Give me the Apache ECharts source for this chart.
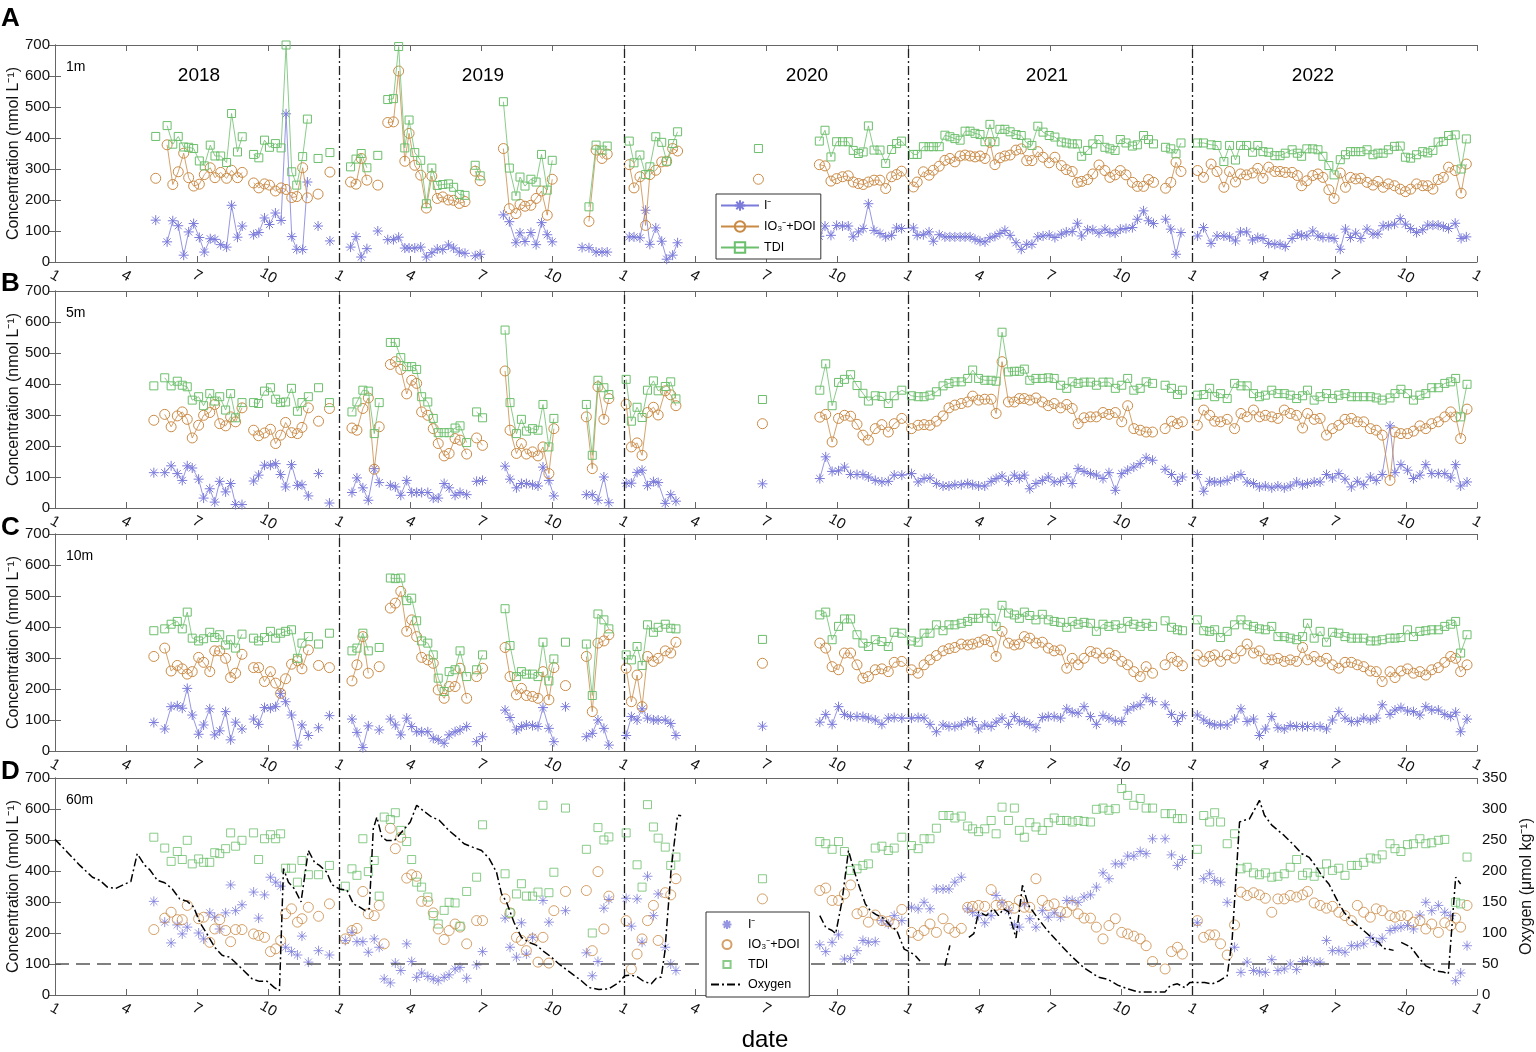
<!DOCTYPE html>
<html>
<head>
<meta charset="utf-8">
<script src="https://cdn.jsdelivr.net/npm/echarts@6/dist/echarts.min.js"></script>
<style>
  html, body { margin: 0; padding: 0; background: #fff; }
  #chart { width: 1536px; height: 1052px; }
</style>
</head>
<body>
<div id="chart"></div>
<script>
// time axis = months since 2018-01-01; ticks every 3 months labelled 1,4,7,10

// ---------- shared sampling dates (panels B, C, D) ----------
var t18 = [4.17, 4.63,4.9,5.16,5.37,5.58,5.79,6.06,6.27,6.53,6.74,6.95,7.2,7.41,7.62,7.89,
  8.38,8.59,8.84,9.09,9.31,9.52,9.73,9.98,10.23,10.42,10.69, 11.12, 11.58];
var t19B = [12.53,12.74,12.99,13.22,13.47,13.68,
  14.15,14.36,14.59,14.84,15.05,15.26,15.47,15.73,15.96,16.17,16.42,16.63,16.88,17.09,17.37,
  17.79,18.04, 18.99,19.2,19.47,19.68,19.89,20.15,20.38,20.59,20.84,21.05, 22.42,22.67,22.91,23.16,23.37];
var t19C = [12.53,12.74,12.99,13.22, 13.68,
  14.15,14.36,14.59,14.84,15.05,15.26,15.47,15.73,15.96,16.17,16.42,16.63,16.88,17.09,17.37,
  17.79,18.04, 18.99,19.2,19.47,19.68,19.89,20.15,20.38,20.59,20.84,21.05, 21.54, 22.42,22.67,22.91,23.16,23.37];
var t19D = [12.25,12.53,12.74,12.99,13.22,13.47,13.68,13.89,
  14.15,14.36,14.59,14.84,15.05,15.26,15.47,15.73,15.96,16.17,16.42,16.63,16.88,17.09,17.37,
  17.79,18.04, 18.99,19.2,19.47,19.68,19.89,20.15,20.38,20.59,20.84,21.05, 21.54, 22.42,22.67,22.91,23.16,23.37];
var t20 = [24.1,24.32,24.56,24.77,25.0,25.25,25.45,25.75,25.98,26.2, 29.85];
var tLate20 = [32.27,32.52,32.79,33.06,33.31,33.57,33.84,34.09,34.32,34.61,34.89,35.16,35.41,35.73];
var t21 = [36.14,36.42,36.67,36.92,37.19,37.47,37.72,37.97,38.24,38.51,38.72,38.97,39.23,39.5,39.71,
  39.96,40.23,40.48,40.69,40.9,41.13,41.39,41.66,41.91,42.16,42.43,42.69,42.92,43.17,43.42,
  43.69,43.94,44.22,44.47,44.74,45.01,45.26,45.52,45.79,46.04,46.31];
var t21b = [46.84,47.11,47.36,47.57];
var t22 = [48.2,48.47,48.72,48.93,49.18,49.46,49.77,50.04,50.3,50.57,50.82,51.07,51.34,51.6,51.87,
  52.12,52.39,52.64,52.85,53.13,53.38,53.65,53.9,54.17,54.43,54.7,54.95,55.22,55.5,55.75,
  56.0,56.33,56.54,56.79,57.07,57.32,57.59,57.84,58.09,58.37,58.64,58.89,59.1,59.31,59.58];

// ---------- A : 1 m ----------
var tA = [4.25,
  4.73,4.97,5.2,5.43,5.64,5.85,6.09,6.3,6.55,6.75,6.99,7.24,7.45,7.7,7.9,
  8.38,8.6,8.84,9.05,9.3,9.54,9.75,9.99,10.2,10.45,10.65, 11.1, 11.6,
  12.47,12.7,12.92,13.16, 13.62,
  14.04,14.28,14.5,14.76,14.94,15.18,15.43,15.67,15.9,16.13,16.36,16.6,16.82,17.06,17.3,
  17.73,17.94, 18.92,19.17,19.45,19.62,19.83,20.08,20.3,20.53,20.77,20.98,
  22.24,22.53,22.83,23.08,23.3,
  24.23,24.43,24.68,24.92,25.1,25.35,25.6,25.81,26.06,26.27, 29.68,
  32.25,32.49,32.74,32.98,33.23,33.47,33.68,33.9,34.1,34.32,34.56,34.81,35.05,35.3,35.51,35.72,
  36.22,36.38,36.64,36.88,37.06,37.31,37.55,37.76,37.97,38.19,38.4,38.61,38.82,39.03,39.24,39.45,39.66,39.87,40.08,40.3,40.55,
  40.77,41.0,41.22,41.47,41.69,41.95,42.19,42.46,42.67,42.92,43.14,43.32,43.57,43.79,44.05,44.3,44.51,44.73,44.95,45.19,45.46,45.67,45.93,46.14,46.35,
  46.86,47.08,47.3,47.51,
  48.21,48.46,48.78,49.03,49.32,49.56,49.81,50.02,50.28,50.53,50.75,50.97,51.21,51.47,51.69,51.91,52.2,52.42,52.6,52.82,
  53.07,53.29,53.5,53.75,53.97,54.23,54.45,54.66,54.88,55.1,55.36,55.61,55.82,56.04,56.26,56.52,56.76,56.98,57.2,57.45,
  57.71,57.92,58.14,58.36,58.58,58.8,59.08,59.33,59.55];
var segA = [1,15,11,1,1,4,1,15,2,10,5,10,1,62,4,49];
var iA = [135,
  65,133,117,22,97,124,79,32,75,73,56,48,183,80,116,
  88,95,142,121,158,134,478,82,41,40,258, 116, 68,
  48,82,16,43, 100,
  72,72,80,45,45,45,48,16,30,42,40,55,45,32,28,
  20,25, 152,130,62,94,66,95,56,127,88,65,
  47,46,32,32,32,
  81,81,78,167,57,110,67,9,22,62, null,
  83,116,86,118,116,116,81,97,108,188,102,92,81,86,110,108,
  110,86,88,97,67,88,81,81,81,81,81,81,73,67,65,78,83,92,102,86,62,
  41,57,57,81,84,87,79,90,97,98,125,84,104,104,93,106,95,93,106,108,111,138,165,133,124,
  138,106,25,95,
  84,111,60,84,84,81,68,97,97,71,79,76,60,57,57,50,76,90,86,84,
  100,84,79,79,76,41,106,79,93,76,106,90,90,117,117,122,140,122,108,95,
  104,119,119,119,114,108,125,76,81];
var ioA = [270,
  378,250,291,351,272,245,251,282,304,272,289,270,296,272,289,
  255,239,252,248,229,239,234,208,211,304,207, 219, 290,
  258,251,334,264, 248,
  450,452,616,325,415,312,280,174,277,205,210,200,199,189,195,
  293,262, 366,172,156,186,180,183,205,229,151,267,
  null,131,361,334,348,
  314,239,275,118,282,296,323,325,366,358, 267,
  314,310,261,269,275,278,258,253,250,258,264,264,237,275,282,293,
  242,258,291,280,296,309,328,334,323,342,345,342,339,342,334,386,314,336,342,345,361,
  365,327,327,356,338,320,338,311,298,292,257,260,266,284,313,295,273,281,295,281,257,244,244,266,257,
  238,257,322,292,
  295,273,316,292,241,292,258,284,281,287,302,270,306,292,292,289,289,279,246,262,
  279,284,273,233,205,287,241,273,268,270,257,248,260,241,252,246,235,227,235,252,
  246,246,235,266,273,306,295,222,316];
var tdA = [405,
  440,380,405,371,370,366,326,310,377,342,342,321,479,355,404,
  347,336,393,370,382,368,700,291,248,340,461, 334, 353,
  307,332,350,304, 344,
  524,527,695,368,458,353,328,188,303,247,250,252,241,218,215,
  312,278, 517,303,213,274,245,267,258,347,232,328,
  null,178,377,361,374,
  390,320,345,282,307,404,386,325,382,420, 366,
  390,425,339,388,388,388,360,350,355,439,361,361,318,363,382,390,
  347,347,372,372,372,372,409,404,398,393,422,422,415,411,388,444,388,428,428,420,411,
  408,384,376,438,419,408,403,387,384,381,381,341,360,381,395,370,365,360,395,384,374,378,408,395,381,
  370,365,349,384,
  384,384,378,376,324,376,329,376,376,354,376,356,354,343,343,351,362,351,341,365,
  365,362,341,311,281,330,346,356,356,356,362,346,351,351,362,373,374,338,335,346,
  356,352,360,387,389,408,410,300,397];

// ---------- B : 5 m ----------
var tB = [].concat(t18, t19B, t20, tLate20, t21, t21b, t22);
var segB = [1,15,11,1,1,6,15,2,10,5,10,1,55,4,45];
var iB = [114, 114,136,111,89,136,129,93,32,62,19,86,52,79,11,11, 87,106,138,138,143,108,68,140,73,75,39, 111, 16,
  50,97,65,25,127,82, 73,68,41,89,50,50,50,50,32,32,79,65,41,50,43, 86,89, 135,93,65,79,79,75,71,132,89,39, 43,43,25,100,17,
  80,80,115,122,72,85,82,15,43,22, 78,
  95,165,118,120,132,108,108,108,100,89,84,86,106,106,
  111,84,95,97,79,71,71,75,75,79,75,71,71,86,95,103,86,106,95,106,62,79,89,100,84,86,100,79,127,118,111,106,95,114,57,111,122,132,143,162,154,
  125,108,86,100,
  108,54,86,84,84,89,100,108,84,79,68,71,65,71,65,71,84,75,79,84,84,108,97,111,93,68,86,75,100,89,108,265,114,140,122,95,106,140,111,111,111,97,140,71,84];
var ioB = [283, 302,262,297,310,286,226,267,299,308,334,272,265,294,278,323, 251,233,242,254,208,235,276,243,240,260,323, 280, 321,
  258,251,321,355,125,262, 463,472,447,368,412,402,310,299,256,208,168,176,224,219,174, 226,202, 442,251,176,208,174,181,168,197,111,256, 294,127,391,286,353,
  335,197,210,170,308,325,300,378,365,330, 272,
  293,302,213,289,299,296,270,235,219,256,269,245,272,289,
  256,267,269,267,280,297,323,332,337,342,361,348,351,351,305,472,342,342,353,353,348,355,342,330,337,323,334,321,272,291,294,294,308,302,308,278,330,256,251,245,245,
  256,280,272,278,
  267,316,299,280,278,286,256,305,294,316,294,299,294,289,316,305,299,258,305,286,289,235,256,267,286,289,278,278,256,251,235,89,245,240,240,248,265,256,272,278,294,310,294,224,319];
var tdB = [394, 420,394,409,396,391,348,359,330,369,345,359,316,369,291,340, 340,337,377,388,351,340,342,386,312,340,359, 388, 340,
  310,342,380,377,240,340, 534,534,485,456,456,447,359,342,289,243,243,243,258,265,211, 310,291, 574,340,240,286,248,256,251,334,197,289, 334,170,412,388,366,
  415,280,325,292,380,410,378,392,407,352, 350,
  380,465,330,405,415,430,395,370,345,362,360,337,362,380,
  362,359,359,364,375,394,402,407,407,418,445,418,412,412,409,567,439,441,441,448,412,418,418,420,418,396,386,407,402,406,406,396,406,406,386,396,418,380,386,407,402,
  396,386,366,380,
  364,366,386,359,369,353,402,394,394,369,359,364,380,369,369,364,353,362,380,348,359,369,353,364,369,359,359,359,359,355,348,355,369,383,369,348,364,369,388,388,402,407,418,294,399];

// ---------- C : 10 m ----------
var tC = [].concat(t18, t19C, t20, tLate20, t21, t21b, t22);
var segC = [1,15,11,1,1,4,1,15,2,10,1,5,10,1,55,4,45];
var iC = [92, 71,143,146,138,202,116,54,84,136,52,65,127,36,93,71, 103,86,140,138,143,186,159,116,19,84,50, 75, 114,
  103,60,11,81, 68, 103,84,52,106,79,62,62,62,41,36,25,52,62,68,79, 30,46, 132,108,68,79,84,82,79,140,73,30, 143, 46,57,100,73,19,
  50,111,100,136,106,100,100,100,89,50, 80,
  93,118,86,143,118,111,111,111,106,100,86,106,108,106,
  106,108,106,86,62,84,79,79,84,95,95,71,84,79,93,106,86,111,97,95,86,75,108,111,111,106,136,125,122,143,111,86,114,106,97,95,132,143,149,172,159,
  149,118,95,114,
  116,100,89,84,84,84,103,136,95,103,50,71,111,75,71,82,79,79,79,79,79,71,100,127,106,95,95,106,100,106,149,118,132,140,129,127,116,143,132,132,118,111,125,62,103];
var ioC = [305, 332,258,276,265,248,256,302,286,256,323,323,299,237,251,312, 269,269,224,256,219,186,233,280,291,265,326, 276, 269,
  226,278,369,251, 272, 461,477,515,386,423,369,302,294,283,197,170,208,208,267,170, 240,267, 334,240,181,202,179,176,170,256,165,269, 211, 305,127,348,355,375,
  267,159,245,143,305,289,299,323,316,351, 283,
  348,332,272,262,316,316,278,235,240,262,265,256,286,289,
  262,251,278,294,308,323,330,334,345,342,345,351,359,353,305,386,348,342,345,369,364,348,351,332,323,326,267,299,278,299,321,316,299,316,308,289,278,256,240,272,251,
  278,302,289,275,
  310,289,305,310,289,310,299,323,345,316,323,297,294,299,289,294,289,334,294,305,289,299,278,267,286,286,278,272,258,256,224,256,237,258,265,251,256,245,262,269,286,305,299,256,278];
var tdC = [388, 394,409,418,394,448,364,355,362,383,366,375,342,359,332,377, 364,355,366,386,364,380,386,391,299,348,369, 345, 380,
  323,332,380,323, 334, 558,556,558,485,493,420,355,348,310,235,192,256,262,323,240, 262,310, 459,340,240,256,248,248,240,351,226,297, 351, 345,179,442,423,394,
  310,294,337,276,407,383,399,409,396,394, 360,
  439,448,359,402,426,426,375,348,337,359,353,337,383,380,
  355,351,380,380,407,388,407,407,412,418,428,428,445,428,402,470,445,439,428,448,437,423,441,423,418,415,399,418,409,415,412,386,409,402,407,396,418,409,402,412,402,
  420,399,391,388,
  423,388,386,391,366,386,407,423,407,402,394,391,402,369,369,364,359,369,412,364,386,351,383,380,369,364,364,364,355,355,359,364,364,366,391,369,386,388,391,391,402,409,418,316,375];

// ---------- D : 60 m (markers only) ----------
var tD = [].concat(t18, t19D, t20, tLate20, t21, t21b, t22);
var iD = [302,235,168,226,197,219,null,200,181,265,251,213,265,355,272,291,332,248,323,380,364,351,154,140,129,190,106,143,129,
  176,202,172,172,138,181,154,52,39,103,79,165,108,57,71,60,52,46,57,65,84,89,54,97,140,248,154,122,233,132,186,null,305,235,null,272,136,62,108,280,308,
  312,222,310,170,383,256,326,154,100,79, null,
  162,140,170,194,116,118,143,176,170,172,240,229,256,240,
  283,278,299,278,342,342,342,364,380,278,267,256,233,256,321,299,272,226,219,294,246,219,272,251,265,251,305,305,299,316,323,348,394,375,423,423,448,448,463,456,504,
  504,452,418,437,
  233,375,391,369,364,299,154,73,106,79,75,73,114,79,84,100,82,108,111,106,106,176,143,143,138,159,159,165,186,170,183,208,215,219,224,213,258,299,272,289,267,256,46,71,159];
var ioD = [211,248,267,243,243,289,null,246,251,170,213,243,208,172,211,211,197,192,186,140,149,176,262,278,235,246,283,254,294,
  181,208,215,334,262,256,289,165,538,472,509,377,388,383,302,302,265,213,179,208,229,219,165,240,240,310,265,186,176,143,181,106,186,103,272,334,337,143,398,213,319,
  240,84,132,181,240,289,176,330,323,375, 310,
  337,345,305,305,326,355,262,269,235,258,240,237,229,276,
  202,192,208,229,202,246,215,202,215,283,286,289,286,340,289,291,286,280,305,283,283,375,305,289,294,269,267,289,262,248,248,219,181,224,246,202,197,190,181,159,108,
  84,140,154,132,
  240,186,194,194,165,129,226,332,321,330,323,312,267,310,310,321,316,323,334,297,289,280,286,267,256,240,289,267,251,278,272,256,251,256,256,235,240,213,229,202,233,224,248,219,289];
var tdD = [509,474,431,463,437,499,423,439,428,428,459,456,472,523,480,499,523,437,504,517,504,520,409,409,364,434,388,388,418,
  351,407,386,504,398,434,319,574,566,588,531,495,437,364,348,316,256,229,273,299,297,222,334,380,549,391,265,326,359,319,319,332,612,330,396,603,470,200,540,500,510,
  523,null,420,348,614,542,506,477,418,445, 375,
  495,488,470,495,463,402,407,418,423,474,480,466,474,509,
  482,472,504,504,538,579,579,571,577,545,536,527,536,563,520,606,563,603,531,509,556,542,531,556,571,563,563,558,563,560,558,599,603,596,601,666,644,612,634,603,603,
  585,585,569,569,
  470,579,558,588,558,488,520,407,412,394,388,394,380,383,391,412,437,386,394,383,396,423,402,409,386,418,418,428,442,439,452,488,472,463,485,488,504,488,491,499,502,null,299,294,445];

// ---------- D : oxygen (right axis, umol/kg) ----------
var tO2 = [0,0.53,1.05,1.58,1.89,2.21,2.57,2.95,3.2,3.47,3.79,4.0,4.32,4.63,4.95,5.26,5.58,5.85,6.11,6.42,
  6.74,7.05,7.37,7.68,8.0,8.32,8.63,8.95,9.26,9.47,9.64,9.85,10.11,10.38,10.69,10.95,11.16,11.47,11.68,12.0,
  12.32,12.59,12.84,13.09,13.26,13.43,13.58,13.79,14.0,14.32,14.63,14.99,15.26,15.58,15.89,16.21,16.63,16.95,17.26,17.58,
  18.0,18.32,18.63,18.84,19.05,19.37,19.68,20.0,20.32,20.63,20.95,21.26,21.58,21.89,22.21,22.53,22.95,23.37,23.79,24.04,
  24.32,24.59,24.84,25.16,25.37,25.58,25.73,26.0,26.27,26.42,
  32.27,32.52,32.79,32.94,33.21,33.48,33.69,33.94,34.19,34.4,34.68,34.99,35.24,35.52,35.83,36.04,36.29,36.5,
  37.55,37.76,
  38.56,38.77,38.97,39.29,39.6,39.81,40.02,40.23,40.55,40.82,41.07,41.39,41.81,42.33,42.85,43.38,44.01,44.43,44.84,45.26,
  45.68,46.52,46.84,47.05,47.36,47.67,47.88,48.2,48.51,48.83,49.14,49.46,49.67,49.98,50.19,50.4,50.71,50.82,51.03,51.34,
  51.87,52.29,52.6,52.92,53.23,53.44,53.75,54.07,54.38,54.7,55.12,55.64,55.85,56.06,56.27,56.48,
  56.8,57.21,57.53,57.84,58.26,58.58,58.79,59.1,59.31];
var o2 = [251,230,209,190,185,174,172,179,183,228,209,202,185,181,171,155,151,142,117,98,
  77,64,61,50,38,26,22,22,12,7,204,182,171,150,233,214,209,198,178,171,
  169,147,142,136,139,268,287,255,249,249,263,279,306,296,287,282,265,255,244,239,
  233,220,198,163,150,117,93,85,80,70,61,50,41,32,23,12,9,10,20,31,
  32,29,22,18,27,29,69,204,290,289,
  128,109,104,99,152,233,204,174,147,136,129,123,112,104,74,70,64,55,
  47,80,
  93,99,134,128,139,128,139,134,92,177,145,128,107,85,64,45,29,25,16,10,
  5,5,5,15,18,12,20,20,20,18,23,31,90,279,282,284,306,314,290,274,
  257,241,228,222,206,193,179,155,134,120,107,90,85,75,74,72,
  85,77,61,47,39,37,34,190,179];
var segO2 = [90,18,2,56,9];

var years = ['2018', '2019', '2020', '2021', '2022'];
var depths = ['1m', '5m', '10m', '60m'];
var panels = ['A', 'B', 'C', 'D'];
var yearLines = [12, 24, 36, 48];

// ---------- helpers ----------
var FONT = 'Liberation Sans, Arial, Helvetica, sans-serif';
var cI = '#7b7bdb', cIO = '#c98a45', cTD = '#6cbf6c';
var asterisk = 'path://M0,-10L0,10M-10,0L10,0M-7.1,-7.1L7.1,7.1M-7.1,7.1L7.1,-7.1';
// square with a thin empty margin so the legend icon stays small
var squareIcon = 'path://M-1,-1L-1,-1M0,0L8,0L8,8L0,8ZM9,9L9,9';
var tops = [45, 291, 534, 778];
var axisLn = {color: '#666', width: 1};

// pairs of [month, value]; a break in the line goes between segments
function build(t, v, seg) {
    var out = [], k = 0;
    if (!seg) {
        return t.map(function (x, i) { return [x, v[i]]; });
    }
    seg.forEach(function (n, s) {
        if (s > 0) out.push([t[k - 1], null]);
        for (var j = 0; j < n; j++, k++) out.push([t[k], v[k]]);
    });
    return out;
}

function monthLabel(v) {
    return String((Math.round(v) % 12) + 1);
}

var grids = [], xAxes = [], yAxes = [], series = [];

tops.forEach(function (top, p) {
    grids.push({left: 55, width: 1422, top: top, height: 217, containLabel: false, outerBoundsMode: 'none'});
    xAxes.push({
        gridIndex: p, type: 'value', min: 0, max: 60, interval: 3,
        axisLine: {show: true, onZero: false, lineStyle: axisLn},
        axisTick: {show: true, inside: true, length: 6, lineStyle: axisLn},
        splitLine: {show: false},
        axisLabel: {rotate: -30, align: 'center', verticalAlign: 'middle', margin: 14,
                    fontSize: 15, color: '#111', fontFamily: FONT, formatter: monthLabel}
    });
    xAxes.push({
        gridIndex: p, type: 'value', position: 'top', min: 0, max: 60, interval: 3,
        axisLine: {show: true, onZero: false, lineStyle: axisLn},
        axisTick: {show: true, inside: true, length: 6, lineStyle: axisLn},
        splitLine: {show: false}, axisLabel: {show: false}
    });
    yAxes.push({
        gridIndex: p, type: 'value', position: 'left', min: 0, max: 700, interval: 100,
        name: 'Concentration (nmol L\u207B\u00B9)', nameLocation: 'middle', nameGap: 33, nameRotate: 90,
        nameMoveOverlap: false,
        nameTextStyle: {fontSize: 16, color: '#111', fontFamily: FONT},
        axisLine: {show: true, lineStyle: axisLn},
        axisTick: {show: true, inside: true, length: 6, lineStyle: axisLn},
        splitLine: {show: false},
        axisLabel: {fontSize: 15, color: '#111', margin: 5, fontFamily: FONT}
    });
    if (p === 3) {
        yAxes.push({
            gridIndex: p, type: 'value', position: 'right', min: 0, max: 350, interval: 50,
            name: 'Oxygen (\u03BCmol kg\u207B\u00B9)', nameLocation: 'middle', nameGap: 42, nameRotate: 90,
            nameMoveOverlap: false,
            nameTextStyle: {fontSize: 16, color: '#111', fontFamily: FONT},
            axisLine: {show: true, lineStyle: axisLn},
            axisTick: {show: true, inside: true, length: 6, lineStyle: axisLn},
            splitLine: {show: false},
            axisLabel: {fontSize: 15, color: '#111', margin: 5, fontFamily: FONT}
        });
    } else {
        yAxes.push({
            gridIndex: p, type: 'value', position: 'right', min: 0, max: 700, interval: 100,
            axisLine: {show: true, lineStyle: axisLn},
            axisTick: {show: true, inside: true, length: 6, lineStyle: axisLn},
            splitLine: {show: false}, axisLabel: {show: false}
        });
    }
});

var yearMark = {
    silent: true, symbol: ['none', 'none'], label: {show: false}, animation: false,
    lineStyle: {color: '#222', width: 1.3, type: [9, 3, 2, 3]},
    data: yearLines.map(function (m) { return {xAxis: m}; })
};

var kinds = [
    {name: 'I\u207B', color: cI, symbol: asterisk, size: 10},
    {name: 'IO\u2083\u207B+DOI', color: cIO, symbol: 'circle', size: 10},
    {name: 'TDI', color: cTD, symbol: 'rect', size: 8}
];

function addPanel(p, t, vals, seg) {
    kinds.forEach(function (k, j) {
        var s = {
            name: p === 3 ? k.name + ' ' : k.name,
            type: p === 3 ? 'scatter' : 'line',
            xAxisIndex: 2 * p, yAxisIndex: 2 * p,
            data: build(t, vals[j], seg),
            symbol: k.symbol, symbolSize: k.size,
            itemStyle: {color: 'rgba(0,0,0,0)', borderColor: k.color, borderWidth: 1},
            animation: false, z: 3 + j
        };
        if (p !== 3) {
            s.showSymbol = true;
            s.showAllSymbol = true;
            s.connectNulls = false;
            s.lineStyle = {color: k.color, width: 0.8};
        }
        if (j === 0) {
            s.markLine = JSON.parse(JSON.stringify(yearMark));
            if (p === 3) {
                s.markLine.data.push({yAxis: 100, lineStyle: {color: '#555', width: 1.6, type: [14, 7]}});
            }
        }
        series.push(s);
    });
}

addPanel(0, tA, [iA, ioA, tdA], segA);
addPanel(1, tB, [iB, ioB, tdB], segB);
addPanel(2, tC, [iC, ioC, tdC], segC);
addPanel(3, tD, [iD, ioD, tdD], null);

series.push({
    name: 'Oxygen', type: 'line', xAxisIndex: 6, yAxisIndex: 7,
    data: build(tO2, o2, segO2), symbol: 'none', connectNulls: false,
    lineStyle: {color: '#000', width: 1.5, type: [8, 3, 2, 3]},
    itemStyle: {color: 'rgba(0,0,0,0)', borderWidth: 0}, animation: false, z: 6
});

function txt(x, y, s, size, align, bold) {
    return {
        type: 'text', x: x, y: y, silent: true,
        style: {text: s, fill: '#000', font: (bold ? 'bold ' : '') + size + 'px ' + FONT,
                textAlign: align, align: align, textVerticalAlign: 'middle', verticalAlign: 'middle'}
    };
}

var graphics = [];
[199, 483, 807, 1047, 1313].forEach(function (x, i) { graphics.push(txt(x, 76, years[i], 19, 'center')); });
[67, 313, 556, 800].forEach(function (y, i) { graphics.push(txt(66, y, depths[i], 14, 'left')); });
[19, 284, 528, 772].forEach(function (y, i) { graphics.push(txt(1, y, panels[i], 26, 'left', true)); });
graphics.push(txt(765, 1040, 'date', 24, 'center'));

var legendBase = {
    orient: 'vertical', backgroundColor: '#fff', z: 20,
    borderColor: '#333', borderWidth: 1, borderRadius: 0,
    textStyle: {fontSize: 12.5, color: '#000', fontFamily: FONT}, selectedMode: false
};

var option = {
    animation: false,
    textStyle: {fontFamily: FONT},
    grid: grids,
    xAxis: xAxes,
    yAxis: yAxes,
    legend: [
        Object.assign({}, legendBase, {left: 716, top: 194, itemWidth: 38, itemHeight: 13, itemGap: 8,
            padding: [5, 5, 5, 4],
            data: kinds.map(function (k) { return k.name; })}),
        Object.assign({}, legendBase, {left: 706, top: 912, itemWidth: 32, itemHeight: 9, itemGap: 7,
            padding: [6, 6, 6, 4],
            data: [
                {name: kinds[0].name + ' '},
                {name: kinds[1].name + ' '},
                {name: kinds[2].name + ' ', icon: squareIcon},
                {name: 'Oxygen'}
            ]})
    ],
    graphic: graphics,
    series: series
};

var chart = echarts.init(document.getElementById('chart'), null, {renderer: 'canvas'});
chart.setOption(option);
</script>
</body>
</html>
